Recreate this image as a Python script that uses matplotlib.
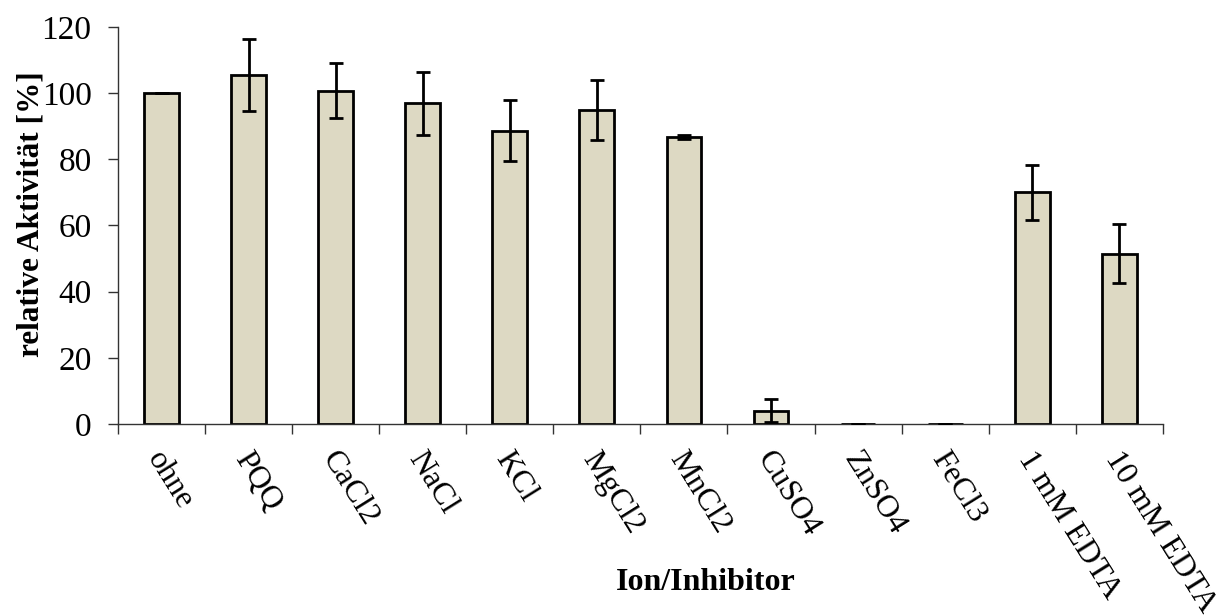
import matplotlib
matplotlib.use("Agg")
import matplotlib.pyplot as plt
import numpy as np

categories = ["ohne", "PQQ", "CaCl2", "NaCl", "KCl", "MgCl2", "MnCl2",
              "CuSO4", "ZnSO4", "FeCl3", "1 mM EDTA", "10 mM EDTA"]
activity = [100.0, 105.5, 100.8, 97.0, 88.6, 94.9, 86.7,
            4.0, 0.0, 0.0, 70.0, 51.5]
errors = [0.0, 11.0, 8.2, 9.5, 9.2, 9.2, 0.6,
          3.5, 0.0, 0.0, 8.2, 9.0]
yticks = [0, 20, 40, 60, 80, 100, 120]

plt.rcParams["font.family"] = ["Liberation Serif", "DejaVu Serif"]

fig = plt.figure(figsize=(12.24, 6.16), dpi=100)
ax = fig.add_axes([0.0964, 0.3117, 0.8536, 0.6445])

x = np.arange(len(categories))
ax.bar(x, activity, width=0.4, color="#DDD9C3", edgecolor="black",
       linewidth=2.0, zorder=2)
ax.errorbar(x, activity, yerr=errors, fmt="none", ecolor="black",
            elinewidth=2.0, capsize=5, capthick=2.0, zorder=3)

ax.set_xlim(-0.5, len(categories) - 0.5)
ax.set_ylim(0, 120)
ax.set_yticks(yticks)
ax.set_yticklabels([str(t) for t in yticks], fontsize=24)

# ticks at the boundaries between categories, labels centred under bars
ax.set_xticks(np.arange(len(categories) + 1) - 0.5)
ax.set_xticklabels([])
ax.tick_params(axis="x", direction="out", length=7, width=1, color="#333333")
ax.tick_params(axis="y", direction="out", length=7, width=1, color="#333333", pad=12)

for xi, name in zip(x, categories):
    ax.annotate(name, xy=(xi, 0), xycoords=("data", "axes fraction"),
                xytext=(-8, -30), textcoords="offset pixels",
                rotation=-58, rotation_mode="anchor", ha="left", va="center",
                fontsize=23)

for side in ("top", "right"):
    ax.spines[side].set_visible(False)
for side in ("left", "bottom"):
    ax.spines[side].set_linewidth(1.0)
    ax.spines[side].set_color("#333333")

fig.text(31 / 1224, 1 - 214 / 616, "relative Aktivität [%]", rotation=90,
         ha="center", va="center", fontsize=22.5, fontweight="bold")
fig.text(706 / 1224, 1 - 582 / 616, "Ion/Inhibitor", ha="center", va="center",
         fontsize=23, fontweight="bold")

fig.savefig("out.png", dpi=100)
